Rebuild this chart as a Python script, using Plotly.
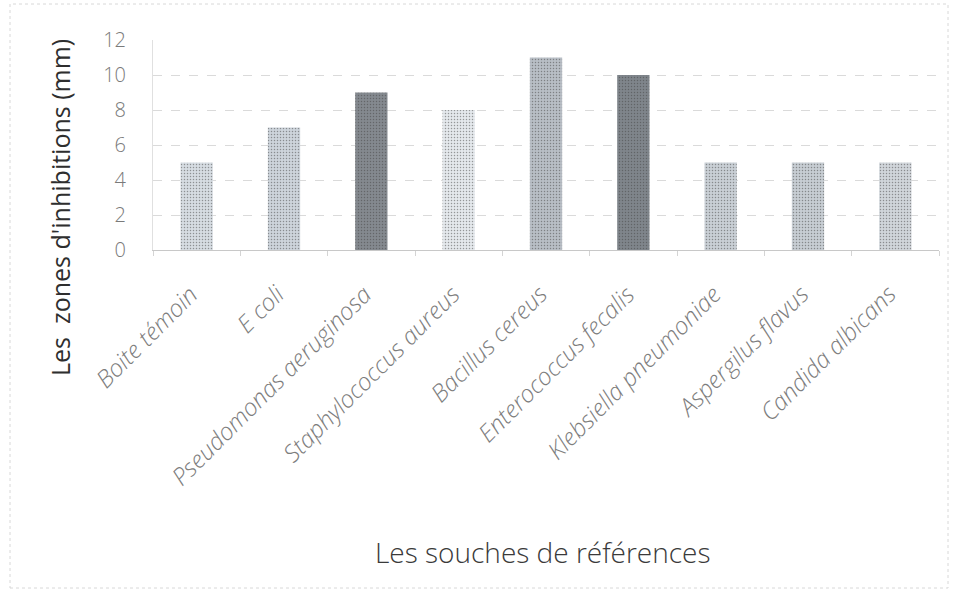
import plotly.graph_objects as go

categories = ["Boite témoin", "E coli", "Pseudomonas aeruginosa", "Staphylococcus aureus",
              "Bacillus cereus", "Enterococcus fecalis", "Klebsiella pneumoniae",
              "Aspergilus flavus", "Candida albicans"]
values = [5, 7, 9, 8, 11, 10, 5, 5, 5]
bar_colors = ["#d6dce2", "#cdd4db", "#84898f", "#e4e8ec", "#b8bec5",
              "#7f858b", "#c9cfd5", "#c7cdd3", "#d0d5da"]
y_ticks = [0, 2, 4, 6, 8, 10, 12]

L, R, T, B = 153, 15, 40, 342
W, H = 954, 592
pw, ph = W - L - R, H - T - B

fig = go.Figure(go.Bar(
    x=categories, y=values,
    marker=dict(color=bar_colors, line=dict(width=0),
                pattern=dict(shape=".", size=3, solidity=0.2, fgcolor="#aab1b9", fillmode="overlay")),
    width=0.37,
))

label_font = dict(family="Open Sans", size=24, color="#7d7d7d", style="italic", weight=300)
annotations = [
    dict(text=c, xref="x", yref="y", x=i, y=0, textangle=-45,
         xanchor="right", yanchor="top", showarrow=False,
         xshift=10, yshift=-25, font=label_font)
    for i, c in enumerate(categories)
]
annotations += [
    dict(text="Les  zones d'inhibitions (mm)", textangle=-90,
         xref="paper", yref="paper",
         x=(60 - L) / pw, y=(H - B - 208) / ph,
         showarrow=False, xanchor="center", yanchor="middle",
         font=dict(family="Open Sans", size=25, color="#2e2e2e")),
    dict(text="Les souches de références",
         xref="paper", yref="paper",
         x=(543 - L) / pw, y=(H - B - 552) / ph,
         showarrow=False, xanchor="center", yanchor="middle",
         font=dict(family="Open Sans", size=28, color="#3a3a3a", weight=300)),
]

fig.update_layout(
    width=W, height=H,
    margin=dict(l=L, r=R, t=T, b=B),
    paper_bgcolor="white", plot_bgcolor="white",
    showlegend=False,
    xaxis=dict(
        type="category",
        range=[-0.5, len(categories) - 0.5],
        showticklabels=False,
        showline=True, linecolor="#c8c8c8", linewidth=1,
        ticks="outside", tickson="boundaries", ticklen=5, tickcolor="#d4d4d4",
        showgrid=False,
    ),
    yaxis=dict(
        range=[0, 12], tickvals=y_ticks,
        tickfont=dict(family="Open Sans", size=20, color="#7a7a7a", weight=300),
        ticklabelstandoff=22,
        showgrid=True, gridcolor="#dadada", griddash="dash", gridwidth=1,
        showline=True, linecolor="#e0e0e0",
        zeroline=False, ticks="",
    ),
    annotations=annotations,
    shapes=[
        dict(type="rect", xref="paper", yref="paper",
             x0=(10 - L) / pw, x1=(948 - L) / pw,
             y0=(H - B - 588) / ph, y1=(H - B - 4) / ph,
             line=dict(color="#d8d8d8", width=1, dash="dot")),
    ],
)

fig.write_html("out.html")
